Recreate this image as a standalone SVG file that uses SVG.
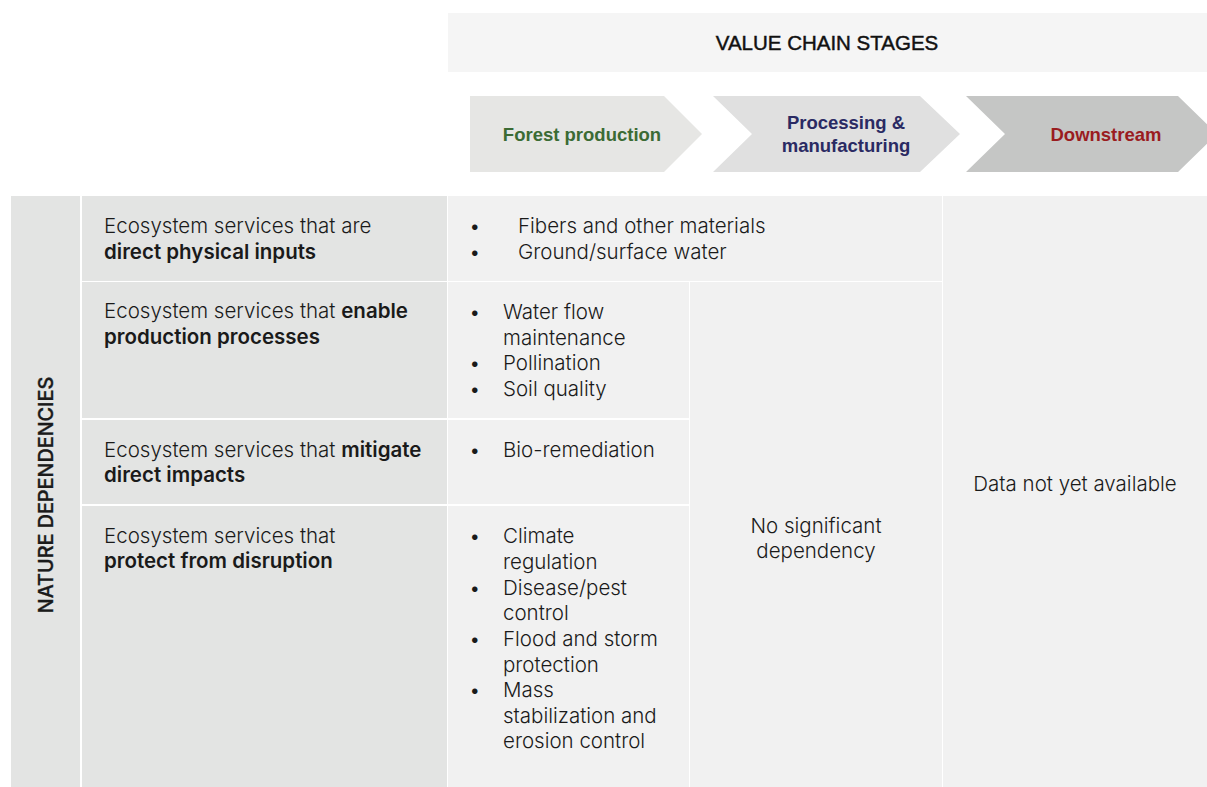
<svg xmlns="http://www.w3.org/2000/svg" width="1207" height="787" viewBox="0 0 1207 787">
<style>
.hdr{fill:#e3e4e3}
.cell{fill:#f1f1f1}
.t{font-family:Inter,"Liberation Sans",sans-serif;font-size:20.5px;font-weight:300;fill:#1a1a1a}
.b{font-weight:600}
.stage{font-family:"Liberation Sans",Arial,sans-serif;font-size:18.5px;font-weight:bold;text-anchor:middle}
.title{font-family:"Liberation Sans",Arial,sans-serif;font-size:20.5px;font-weight:normal;fill:#111;text-anchor:middle}
</style>
<rect width="1207" height="787" fill="#ffffff"/>
<g id="value-chain-header">
<rect x="448" y="13" width="759" height="59" fill="#f5f5f5"/>
<text class="title" x="827" y="50" style="stroke:#111;stroke-width:0.45">VALUE CHAIN STAGES</text>
</g>
<g id="stage-forest">
<path d="M470,96 L664,96 L702,134 L664,172 L470,172 Z" fill="#e6e6e4"/>
<text class="stage" x="582" y="141" fill="#3b6b34">Forest production</text>
</g>
<g id="stage-processing">
<path d="M713,96 L920,96 L960,134 L920,172 L713,172 L752,134 Z" fill="#e0e0e0"/>
<text class="stage" x="846" y="129" fill="#2a2a63">Processing &amp;</text>
<text class="stage" x="846" y="152" fill="#2a2a63">manufacturing</text>
</g>
<g id="stage-downstream">
<path d="M966,96 L1178,96 L1217,134 L1178,172 L966,172 L1005,134 Z" fill="#c5c6c5"/>
<text class="stage" x="1106" y="141" fill="#9a1c1f">Downstream</text>
</g>
<g id="nature-dependencies">
<rect class="hdr" x="11" y="196" width="69" height="591"/>
<text class="t" transform="translate(53,495) rotate(-90)" text-anchor="middle" style="font-weight:500;font-size:19.8px;stroke:#1a1a1a;stroke-width:0.35">NATURE DEPENDENCIES</text>
</g>
<g id="row-direct-inputs">
<rect class="hdr" x="82" y="196" width="365" height="85"/>
<text class="t" x="104" y="233">Ecosystem services that are</text>
<text class="t b" x="104" y="259">direct physical inputs</text>
</g>
<g id="row-enable">
<rect class="hdr" x="82" y="282" width="365" height="136"/>
<text class="t" x="104" y="318">Ecosystem services that <tspan class="b">enable</tspan></text>
<text class="t b" x="104" y="344">production processes</text>
</g>
<g id="row-mitigate">
<rect class="hdr" x="82" y="420" width="365" height="84"/>
<text class="t" x="104" y="457">Ecosystem services that <tspan class="b">mitigate</tspan></text>
<text class="t b" x="104" y="482">direct impacts</text>
</g>
<g id="row-protect">
<rect class="hdr" x="82" y="506" width="365" height="281"/>
<text class="t" x="104" y="543">Ecosystem services that</text>
<text class="t b" x="104" y="568">protect from disruption</text>
</g>
<g id="cell-direct-inputs">
<rect class="cell" x="448" y="196" width="494" height="85"/>
<text class="t" x="469" y="233">•</text><text class="t" x="518" y="233">Fibers and other materials</text>
<text class="t" x="469" y="259">•</text><text class="t" x="518" y="259">Ground/surface water</text>
</g>
<g id="cell-enable-forest">
<rect class="cell" x="448" y="282" width="241" height="136"/>
<text class="t" x="469" y="319">•</text><text class="t" x="503" y="319">Water flow</text>
<text class="t" x="503" y="345">maintenance</text>
<text class="t" x="469" y="370">•</text><text class="t" x="503" y="370">Pollination</text>
<text class="t" x="469" y="396">•</text><text class="t" x="503" y="396">Soil quality</text>
</g>
<g id="cell-mitigate-forest">
<rect class="cell" x="448" y="420" width="241" height="84"/>
<text class="t" x="469" y="457">•</text><text class="t" x="503" y="457">Bio-remediation</text>
</g>
<g id="cell-protect-forest">
<rect class="cell" x="448" y="506" width="241" height="281"/>
<text class="t" x="469" y="543">•</text><text class="t" x="503" y="543">Climate</text>
<text class="t" x="503" y="569">regulation</text>
<text class="t" x="469" y="595">•</text><text class="t" x="503" y="595">Disease/pest</text>
<text class="t" x="503" y="620">control</text>
<text class="t" x="469" y="646">•</text><text class="t" x="503" y="646">Flood and storm</text>
<text class="t" x="503" y="672">protection</text>
<text class="t" x="469" y="697">•</text><text class="t" x="503" y="697">Mass</text>
<text class="t" x="503" y="723">stabilization and</text>
<text class="t" x="503" y="748">erosion control</text>
</g>
<g id="cell-processing">
<rect class="cell" x="690" y="282" width="252" height="505"/>
<text class="t" x="816" y="533" text-anchor="middle">No significant</text>
<text class="t" x="816" y="558" text-anchor="middle">dependency</text>
</g>
<g id="cell-downstream">
<rect class="cell" x="943" y="196" width="264" height="591"/>
<text class="t" x="1075" y="491" text-anchor="middle">Data not yet available</text>
</g>
</svg>
